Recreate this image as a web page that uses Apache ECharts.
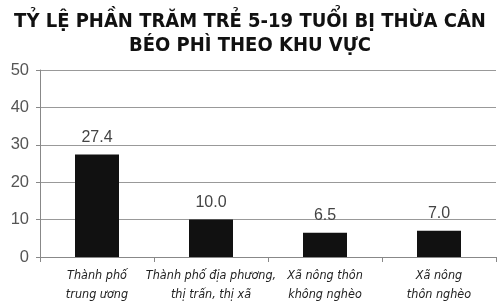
<!DOCTYPE html>
<html><head><meta charset="utf-8">
<script src="https://cdn.jsdelivr.net/npm/echarts@6/dist/echarts.min.js"></script>
<style>html,body{margin:0;padding:0;background:#fff}#c{width:500px;height:305px}</style>
</head><body><div id="c"></div>
<script>
var titleLines = ['TỶ LỆ PHẦN TRĂM TRẺ 5-19 TUỔI BỊ THỪA CÂN', 'BÉO PHÌ THEO KHU VỰC'];
var categories = ['Thành phố\ntrung ương', 'Thành phố địa phương,\nthị trấn, thị xã', 'Xã nông thôn\nkhông nghèo', 'Xã nông\nthôn nghèo'];
var values = [27.4, 10.0, 6.5, 7.0];
var yTicks = [0, 10, 20, 30, 40, 50];

var condensed = '"DejaVu Sans Condensed", "Roboto", sans-serif';
var chart = echarts.init(document.getElementById('c'), null, {renderer: 'canvas'});
chart.setOption({
  animation: false,
  backgroundColor: '#fff',
  title: {
    text: titleLines.join('\n'),
    left: 'center', top: 5,
    textStyle: {fontFamily: condensed, fontWeight: 'bold', fontSize: 20, lineHeight: 24, color: '#111'}
  },
  grid: {left: 40, right: 4, top: 70, bottom: 48},
  xAxis: {
    type: 'category', data: categories,
    axisLine: {lineStyle: {color: '#888'}},
    axisTick: {show: true, length: 5, lineStyle: {color: '#888'}},
    axisLabel: {interval: 0, margin: 9, fontFamily: condensed, fontStyle: 'italic', fontSize: 12.5, lineHeight: 19, color: '#222'}
  },
  yAxis: {
    type: 'value', min: yTicks[0], max: yTicks[yTicks.length - 1], interval: 10,
    axisLine: {show: true, lineStyle: {color: '#888'}},
    axisTick: {show: true, length: 4, lineStyle: {color: '#888'}},
    splitLine: {lineStyle: {color: '#999', width: 1}},
    axisLabel: {margin: 11, fontFamily: 'Liberation Sans', fontSize: 16.5, color: '#555'}
  },
  series: [{
    type: 'bar', data: values, barWidth: 44,
    itemStyle: {color: '#111'},
    label: {show: true, position: 'top', distance: 9, fontFamily: 'Liberation Sans', fontSize: 16, color: '#444',
      formatter: function (p) { return p.value.toFixed(1); }}
  }]
});
</script></body></html>
